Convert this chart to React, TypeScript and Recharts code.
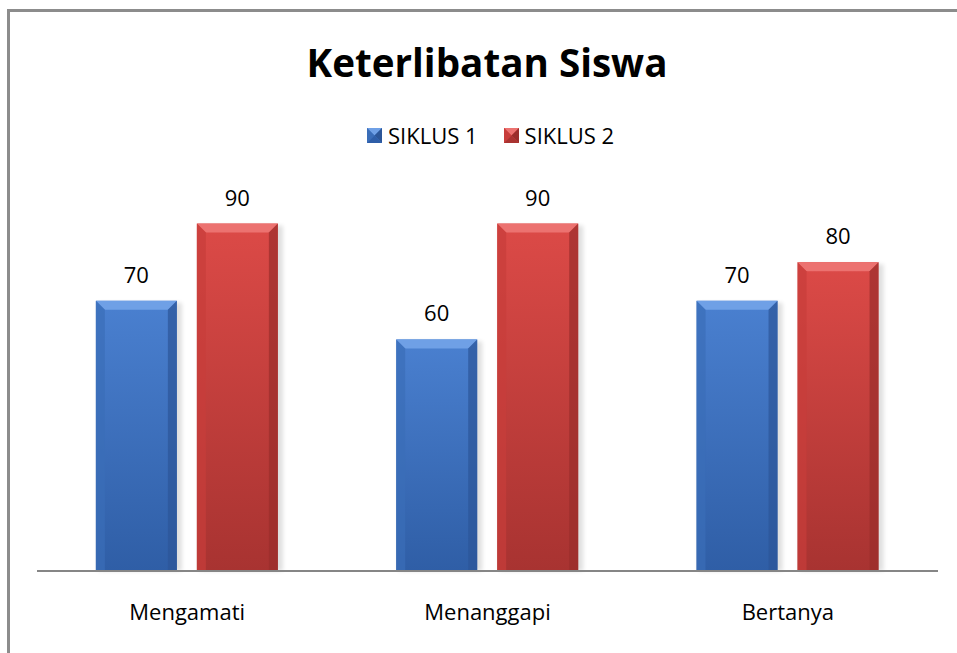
import React from 'react';
import { BarChart, Bar, XAxis, YAxis, LabelList } from 'recharts';

const categories = ['Mengamati', 'Menanggapi', 'Bertanya'];
const siklus1 = [70, 60, 70];
const siklus2 = [90, 90, 80];
const seriesNames = ['SIKLUS 1', 'SIKLUS 2'];
const yDomain = [0, 100];

const data = categories.map((name, i) => ({ name, s1: siklus1[i], s2: siklus2[i] }));

const FONT = '"Open Sans", Calibri, sans-serif';

const palettes: Record<string, { main: string; dark: string; light: string; edgeL: string; edgeR: string; id: string }> = {
  blue: { main: '#4279c8', dark: '#2e5ea8', light: '#6fa0e6', edgeL: '#3a6db8', edgeR: '#2c5698', id: 'b' },
  red: { main: '#d84644', dark: '#a93331', light: '#ec7270', edgeL: '#c83d3b', edgeR: '#9a2d2b', id: 'r' },
};

const BevelBar = (props: any) => {
  const { x, y, width, height, pal } = props;
  const p = palettes[pal];
  if (!height || height <= 0) return null;
  const b = Math.min(9, width / 4, height / 2);
  return (
    <g>
      <rect x={x + 2} y={y + 2} width={width + 3} height={height - 2} fill="#000" opacity={0.12} filter="url(#blurShadow)" />
      <rect x={x} y={y} width={width} height={height} fill={`url(#grad-${p.id})`} />
      <polygon points={`${x},${y} ${x + width},${y} ${x + width - b},${y + b} ${x + b},${y + b}`} fill={p.light} />
      <polygon points={`${x},${y} ${x + b},${y + b} ${x + b},${y + height} ${x},${y + height}`} fill={p.edgeL} opacity={0.7} />
      <polygon points={`${x + width},${y} ${x + width - b},${y + b} ${x + width - b},${y + height} ${x + width},${y + height}`} fill={p.edgeR} opacity={0.7} />
    </g>
  );
};

const LegendSquare = ({ pal }: { pal: string }) => {
  const p = palettes[pal];
  return (
    <svg width={15} height={15} style={{ display: 'block' }}>
      <rect x={0} y={0} width={15} height={15} fill={p.main} />
      <polygon points="0,0 15,0 7.5,7.5" fill={p.light} />
      <polygon points="0,0 7.5,7.5 0,15" fill={p.edgeL} />
      <polygon points="15,0 7.5,7.5 15,15" fill={p.edgeR} />
      <polygon points="0,15 15,15 7.5,7.5" fill={p.dark} />
    </svg>
  );
};

export default function App() {
  return (
    <div style={{ position: 'absolute', left: 0, top: 0, width: 957, height: 653, overflow: 'hidden', background: '#fff' }}>
      <svg style={{ position: 'absolute', left: 0, top: 0 }} width={957} height={653}>
        <line x1={8.5} y1={9} x2={8.5} y2={653} stroke="#8c8c8c" strokeWidth={3} />
        <line x1={7} y1={10.5} x2={957} y2={10.5} stroke="#8c8c8c" strokeWidth={3} />
        <text x={487} y={77} textAnchor="middle" fontFamily={FONT} fontWeight={700} fontSize={40} fill="#000" textLength={361} lengthAdjust="spacingAndGlyphs">
          Keterlibatan Siswa
        </text>
      </svg>
      <div style={{ position: 'absolute', left: 367, top: 121, display: 'flex', alignItems: 'center', fontFamily: FONT, fontSize: 22, color: '#000', lineHeight: '28px' }}>
        <LegendSquare pal="blue" />
        <span style={{ marginLeft: 6 }}>{seriesNames[0]}</span>
        <span style={{ width: 26 }} />
        <LegendSquare pal="red" />
        <span style={{ marginLeft: 6 }}>{seriesNames[1]}</span>
      </div>
      <div style={{ position: 'absolute', left: 0, top: 0 }}>
        <BarChart width={957} height={653} data={data} margin={{ top: 185, right: 19, bottom: 52, left: 37 }} barCategoryGap="19.6%" barGap={20}>
          <defs>
            <linearGradient id="grad-b" x1="0" y1="0" x2="0" y2="1">
              <stop offset="0%" stopColor="#4a80d0" />
              <stop offset="100%" stopColor="#2f5ea6" />
            </linearGradient>
            <linearGradient id="grad-r" x1="0" y1="0" x2="0" y2="1">
              <stop offset="0%" stopColor="#dc4a47" />
              <stop offset="100%" stopColor="#a83331" />
            </linearGradient>
            <filter id="blurShadow" x="-20%" y="-20%" width="140%" height="140%">
              <feGaussianBlur stdDeviation="2" />
            </filter>
          </defs>
          <XAxis
            dataKey="name"
            height={30}
            axisLine={{ stroke: '#868686', strokeWidth: 2 }}
            tickLine={false}
            tickSize={0}
            tickMargin={33}
            tick={{ fill: '#000', fontSize: 22, fontFamily: FONT }}
          />
          <YAxis hide domain={yDomain} />
          <Bar dataKey="s1" name={seriesNames[0]} isAnimationActive={false} shape={(p: any) => <BevelBar {...p} pal="blue" />}>
            <LabelList dataKey="s1" position="top" offset={18} fill="#000" fontSize={22} fontFamily={FONT} />
          </Bar>
          <Bar dataKey="s2" name={seriesNames[1]} isAnimationActive={false} shape={(p: any) => <BevelBar {...p} pal="red" />}>
            <LabelList dataKey="s2" position="top" offset={18} fill="#000" fontSize={22} fontFamily={FONT} />
          </Bar>
        </BarChart>
      </div>
      <div style={{ position: 'absolute', left: 944, top: 13, width: 13, height: 640, background: '#fff', zIndex: 10 }} />
    </div>
  );
}
